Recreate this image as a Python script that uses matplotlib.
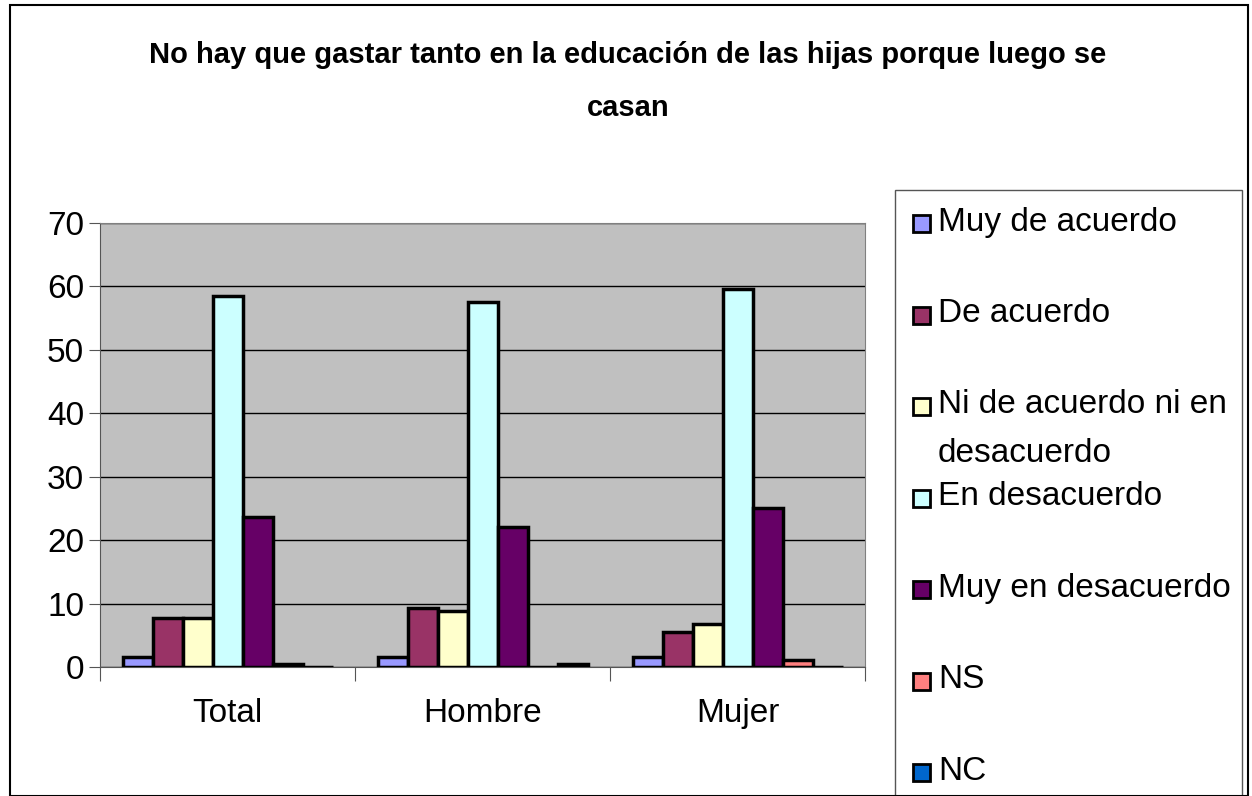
import matplotlib.pyplot as plt
import numpy as np
from matplotlib.patches import Rectangle

plt.rcParams['font.family'] = ['Liberation Sans', 'DejaVu Sans']

grupos = ['Total', 'Hombre', 'Mujer']
series = ['Muy de acuerdo', 'De acuerdo', 'Ni de acuerdo ni en\ndesacuerdo',
          'En desacuerdo', 'Muy en desacuerdo', 'NS', 'NC']
muy_de_acuerdo = [1.6, 1.6, 1.6]
de_acuerdo = [7.7, 9.3, 5.5]
ni_ni = [7.7, 8.8, 6.8]
en_desacuerdo = [58.5, 57.6, 59.6]
muy_en_desacuerdo = [23.6, 22.1, 25.1]
ns = [0.4, 0.0, 1.1]
nc = [0.0, 0.5, 0.0]
valores = [muy_de_acuerdo, de_acuerdo, ni_ni, en_desacuerdo, muy_en_desacuerdo, ns, nc]
colores = ['#9999FF', '#993366', '#FFFFCC', '#CCFFFF', '#660066', '#FF8080', '#0066CC']

W, H = 1252, 796
fig = plt.figure(figsize=(W/100, H/100), dpi=100)
ax = fig.add_axes([100/W, 1-667/H, 765/W, 444/H])
ax.set_facecolor('#C0C0C0')

w = 1/8.5
x = np.arange(3)
for i, (v, c) in enumerate(zip(valores, colores)):
    ax.bar(x - 0.5 + 0.75*w + i*w, v, width=w, align='edge', color=c,
           edgecolor='black', linewidth=2.5, zorder=3)

ax.set_xlim(-0.5, 2.5)
ax.set_ylim(0, 70)
ax.set_yticks(range(0, 71, 10))
ax.yaxis.grid(True, color='black', linewidth=1, zorder=1)
ax.set_xticks([-0.5, 0.5, 1.5, 2.5])
ax.set_xticklabels([])
ax.set_xticks(x, minor=True)
ax.set_xticklabels(grupos, minor=True)
ax.tick_params(axis='x', which='minor', length=0, pad=22, labelsize=24)
ax.tick_params(axis='x', which='major', length=10, direction='out', color='#555555')
ax.tick_params(axis='y', labelsize=24, length=8, direction='out', color='#555555')
for s in ['top', 'right']:
    ax.spines[s].set_color('#808080')
ax.spines['left'].set_color('#555555')
ax.spines['bottom'].set_color('#555555')

fig.text(628/W, 1-55/H, 'No hay que gastar tanto en la educación de las hijas porque luego se',
         ha='center', va='center', fontsize=21, fontweight='bold')
fig.text(628/W, 1-108/H, 'casan', ha='center', va='center', fontsize=21, fontweight='bold')

# leyenda dibujada a mano (el recuadro se corta en el borde inferior)
fig.patches.append(Rectangle((895/W, -0.05), 347/W, 1-190/H + 0.05, transform=fig.transFigure,
                             facecolor='white', edgecolor='#555555', linewidth=1))
for i, (lab, c) in enumerate(zip(series, colores)):
    yc = 222 + i*91.5
    fig.patches.append(Rectangle((913/W, 1-(yc+10)/H), 17/W, 17/H, transform=fig.transFigure,
                                 facecolor=c, edgecolor='black', linewidth=2))
    lineas = lab.split('\n')
    for j, t in enumerate(lineas):
        fig.text(938/W, 1-(yc + j*48)/H, t, ha='left', va='center', fontsize=24)

fig.patches.append(Rectangle((10/W, 0), 1238/W, 1-5/H, transform=fig.transFigure,
                             fill=False, edgecolor='black', linewidth=1.5))

plt.savefig('out.png', dpi=100)
